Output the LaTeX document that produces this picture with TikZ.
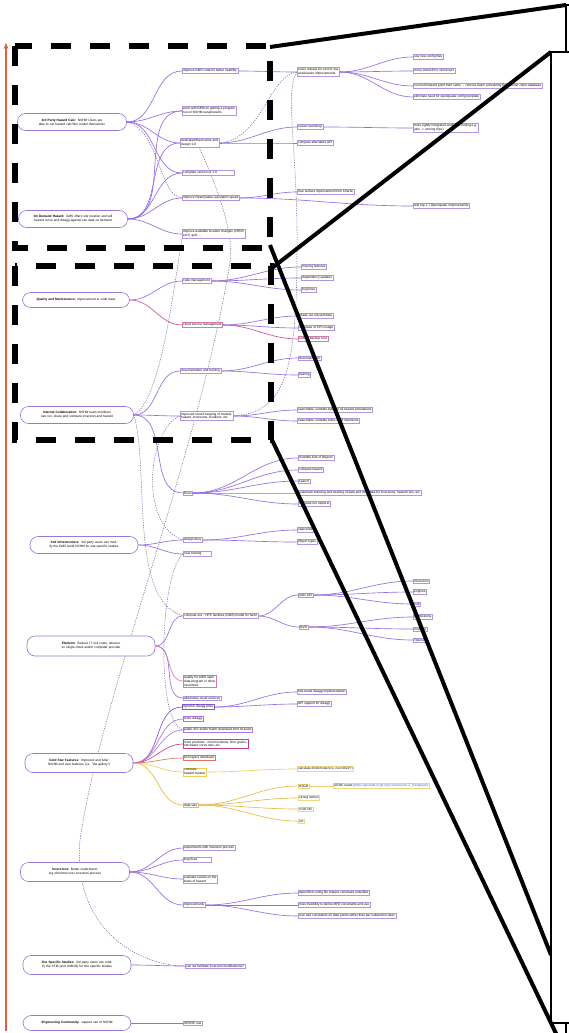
\documentclass[tikz,border=0pt]{standalone}
\usepackage{fontspec}
\setmainfont{Liberation Sans}
\usetikzlibrary{arrows.meta,backgrounds,calc}
\definecolor{rootc}{RGB}{150,120,215}
\definecolor{leafc}{RGB}{175,150,222}
\definecolor{ep}{RGB}{150,110,225}
\definecolor{ek}{RGB}{205,80,150}
\definecolor{lk}{RGB}{215,120,180}
\definecolor{xl}{RGB}{120,110,160}
\definecolor{arrowc}{RGB}{225,95,65}
\definecolor{linkc}{RGB}{60,110,220}
\definecolor{gA}{RGB}{130,85,210}
\definecolor{gB}{RGB}{185,110,225}
\definecolor{gC}{RGB}{175,120,230}
\definecolor{gD}{RGB}{200,60,140}
\definecolor{gE}{RGB}{228,115,95}
\definecolor{gF}{RGB}{240,205,80}
\definecolor{gG}{RGB}{235,185,70}
\definecolor{yl}{RGB}{238,215,130}
\tikzset{
  root/.style={draw=rootc, line width=0.6pt, rounded corners=8pt, fill=white,
    minimum height=17pt, text width=#1, align=center, inner sep=2pt,
    font=\fontsize{3.2}{3.9}\selectfont},
  root/.default=94pt,
  leaf/.style={draw=leafc, line width=0.45pt, fill=white, inner sep=1pt,
    anchor=west, align=left, font=\fontsize{3.2}{3.9}\selectfont},
  edge/.style={draw=ep, line width=0.65pt, out=0, in=180},
  xlink/.style={draw=xl, line width=0.55pt, dash pattern=on 1.2pt off 1.2pt},
  zoomframe/.style={draw=black, line width=6.5pt, dash pattern=on 20pt off 19pt},
  zoomline/.style={draw=black, line width=4pt},
}
\begin{document}
\begin{tikzpicture}[x=1pt,y=-1pt]
\useasboundingbox (0,0) rectangle (568,1033);
% ---------------- roots ----------------
\node[root=92pt, minimum width=109pt] (R1) at (72,122) {\textbf{3rd Party Hazard Calc:} NSHM Users are able to run hazard calc/fine model themselves};
\node[root=92pt, minimum width=109pt] (R2) at (73,219) {\textbf{On Demand Hazard:} GMS offers site location and will hazard curve and disagg against site data on demand};
\node[root=96pt, minimum width=107pt, minimum height=15pt] (R3) at (76,300) {\textbf{Quality and Maintenance:} improvement to code base};
\node[root=96pt, minimum width=113pt] (R4) at (77,415) {\textbf{Internal Collaboration:} NSHM team members can run, share and compare inversion and hazard};
\node[root=94pt, minimum width=108pt] (R5) at (84,545) {\textbf{Self Infrastructure:} 3rd party users can modify the GMS build NSHM for site specific studies};
\node[root=116pt, minimum width=128pt, minimum height=20pt] (R6) at (91,646) {\textbf{Platform}: Reduce IT risk costs, reliance on single cloud and/or computer provider};
\node[root=94pt, minimum width=108pt, minimum height=19pt] (R7) at (79,763) {\textbf{Gold Star Features:} Improved and fuller NSHM end user features (i.e. ``the gallery'')};
\node[root=94pt, minimum width=109pt, minimum height=19pt] (R8) at (75,872) {\textbf{Inversions:} Better understanding of/control over inversion process};
\node[root=92pt, minimum width=108pt, minimum height=19pt] (R9) at (77,965) {\textbf{Site Specific Studies:} 3rd party users can modify the STM (and GMCM) for site specific studies};
\node[root=96pt, minimum width=108pt, minimum height=15pt] (R10) at (77,1023) {\textbf{Engineering Community:} support use of NSHM};
% ---------------- top group ----------------
\node[leaf] (c11) at (182,71) {improve GMS code for better usability};
\node[leaf] (c12) at (182,111) {work with GEM on getting a program\\run on NSHM setup/results};
\node[leaf] (c13) at (180,143) {dedicated/fixed name and\\design 1.0};
\node[leaf, text width=50pt] (c14) at (182,173) {complete version of 1.0};
\node[leaf] (c15) at (182,198) {improve OpenQuake calculation speed};
\node[leaf] (c16) at (182,234) {improve available location changes (VRNS\\etc?) grid, ...};
\node[leaf] (g1) at (297,72) {cover release for cost of use\\and feature improvements};
\node[leaf] (h1) at (413,57) {use new config files};
\node[leaf] (h2) at (413,71) {move toolsAPI to client repo};
\node[leaf] (h3) at (413,86) {run multi hazard point from same ... remove batch scheduling from runner client database};
\node[leaf] (h4) at (413,97) {eliminate need for openquake config template};
\node[leaf] (g2) at (297,127) {review workshop};
\node[leaf] (h5) at (413,128) {more tightly integrated workshop tooling e.g.\\jobs -> running (hpc)};
\node[leaf] (g3) at (297,143) {compare alternative API};
\node[leaf] (g4) at (297,192) {See surface improvement from Charlie};
\node[leaf] (h6) at (413,206) {test top 2.7 Openquake improvements};
% ---------------- quality ----------------
\node[leaf] (q1) at (182,281) {code management};
\node[leaf, draw=lk] (q2) at (182,325) {cloud service management};
\node[leaf] (q11) at (301,267) {missing features};
\node[leaf] (q12) at (301,278) {dependency updates};
\node[leaf] (q13) at (301,290) {bug fixes};
\node[leaf] (q21) at (298,316) {phase out unused data};
\node[leaf] (q22) at (298,328) {decrease of CPU usage};
\node[leaf, draw=lk] (q23) at (298,339) {reduce backup cost};
% ---------------- collaboration ----------------
\node[leaf] (i1) at (180,371) {documentation and training};
\node[leaf] (i2) at (180,416) {improved record keeping of models:\\hazard, inversions, locations, etc};
\node[leaf] (i11) at (298,358) {documentation};
\node[leaf] (i12) at (298,375) {training};
\node[leaf] (i21) at (297,410) {searchable, sortable index of all hazard calculations};
\node[leaf] (i22) at (297,421) {searchable, sortable index of all inversions};
\node[leaf] (i3) at (183,493) {Runs};
\node[leaf] (i31) at (298,458) {Sortable lists of Objects};
\node[leaf] (i32) at (298,470) {compare hazard};
\node[leaf] (i33) at (298,481) {search};
\node[leaf] (i34) at (298,493) {automatic indexing and tracking of data and metadata for inversions, hazard runs, etc};
\node[leaf] (i35) at (298,504) {compare run explorer};
% ---------------- self infrastructure ----------------
\node[leaf] (s1) at (183,540) {design docs};
\node[leaf, text width=26pt] (s2) at (183,554) {new hosting};
\node[leaf] (s11) at (297,530) {object libs};
\node[leaf] (s12) at (297,542) {Object types};
% ---------------- platform ----------------
\node[leaf] (p1) at (183,616) {compute env - HPC facilities (GMS) model for NeSI};
\node[leaf] (p11) at (298,595) {toshi API};
\node[leaf] (p111) at (413,581) {inversions};
\node[leaf] (p112) at (413,592) {engines};
\node[leaf] (p113) at (413,604) {hub};
\node[leaf] (p12) at (299,627) {NeSI};
\node[leaf] (p121) at (413,617) {permissions};
\node[leaf] (p122) at (413,629) {modules};
\node[leaf] (p123) at (413,640) {Tokens};
\node[leaf, draw=lk] (p2) at (183,681) {qualify for AWS open\\data program or other\\incentives};
\node[leaf] (p3) at (183,698) {alternative cloud services};
% ---------------- gold star ----------------
\node[leaf, draw=gA] (gs1) at (182,707) {dynamic disagg plots};
\node[leaf, draw=gB] (gs2) at (183,719) {more disagg};
\node[leaf, draw=gC] (gs3) at (183,730) {public API and/or batch download from forecast};
\node[leaf, draw=gD] (gs4) at (183,744) {more products - more locations, finer grains,\\stochastic curve sets, etc};
\node[leaf, draw=gE] (gs5) at (183,758) {GIS layers download};
\node[leaf, draw=gF] (gs6) at (183,772) {compare\\hazard models};
\node[leaf, draw=gG] (gs7) at (183,805) {data sets};
\node[leaf] (gs11) at (297,692) {fine-tuned disagg implementation};
\node[leaf] (gs12) at (297,704) {API support for disagg};
\node[leaf, draw=yl] (gs61) at (297,769) {calculate 2010 model (vs. next 2022?)};
\node[leaf, draw=yl] (gs71) at (298,786) {NZGD};
\node[leaf, draw=yl] (gs711) at (333,786) {GEDC roads (\textcolor{linkc}{https://geodata.nzgd.org.nz/archive/S-Z\_Sandpiper})};
\node[leaf, draw=yl] (gs72) at (298,798) {strong motion};
\node[leaf, draw=yl] (gs73) at (298,809) {Vs30 DB};
\node[leaf, draw=yl] (gs74) at (298,821) {etc};
% ---------------- inversions ----------------
\node[leaf] (v1) at (183,848) {experiments with inversion process};
\node[leaf, text width=26pt] (v2) at (183,860) {bug fixes};
\node[leaf] (v3) at (183,879) {evaluate results on the\\basis of hazard};
\node[leaf] (v4) at (183,905) {improvements};
\node[leaf] (v41) at (298,893) {OpenSHA config file replace constraint code/files};
\node[leaf] (v42) at (298,905) {more flexibility to define MFD constraints and use};
\node[leaf] (v43) at (298,916) {Use rate constraints on data points rather than per subsection rates};
\node[leaf] (ss1) at (185,966) {can we facilitate inversion modifications?};
\node[leaf] (e1) at (183,1023) {SESOC use};
% ---------------- connectors ----------------
\begin{scope}[on background layer]
\fill[white] (0,0) rectangle (568,1033);
\foreach \a/\b in {R1/c11,R1/c12,R1/c13,R1/c14,R2/c12,R2/c13,R2/c14,R2/c15,R2/c16,
  c11/g1,g1/h1,g1/h2,g1/h3,g1/h4,c13/g2,c13/g3,g2/h5,c15/g4,c15/h6,
  R3/q1,q1/q11,q1/q12,q1/q13,q2/q21,q2/q22,
  R4/i1,R4/i2,R4/i3,i1/i11,i1/i12,i2/i21,i2/i22,i3/i31,i3/i32,i3/i33,i3/i34,i3/i35,
  R5/s1,R5/s2,s1/s11,s1/s12,
  R6/p1,R6/p3,p1/p11,p1/p12,p11/p111,p11/p112,p11/p113,p12/p121,p12/p122,p12/p123,
  gs1/gs11,gs1/gs12,
  R8/v1,R8/v2,R8/v3,R8/v4,v4/v41,v4/v42,v4/v43,R9/ss1,R10/e1}
  {\draw[edge] (\a.east) to (\b.west);}
\draw[edge, draw=ek] (R3.east) to (q2.west);
\draw[edge, draw=ek] (q2.east) to (q23.west);
\draw[edge, draw=lk] (R6.east) to (p2.west);
\draw[edge, draw=gA] (R7.east) to (gs1.west);
\draw[edge, draw=gB] (R7.east) to (gs2.west);
\draw[edge, draw=gC] (R7.east) to (gs3.west);
\draw[edge, draw=gD] (R7.east) to (gs4.west);
\draw[edge, draw=gE] (R7.east) to (gs5.west);
\draw[edge, draw=gF] (R7.east) to (gs6.west);
\draw[edge, draw=gG] (R7.east) to (gs7.west);
\draw[edge, draw=gF] (gs6.east) to (gs61.west);
\foreach \b in {gs71,gs72,gs73,gs74} {\draw[edge, draw=gG] (gs7.east) to (\b.west);}
\draw[edge, draw=gG] (gs71.east) to (gs711.west);
% dashed cross links
\draw[xlink] (c13.east) .. controls (262,140) and (268,76) .. (g1.west);
\draw[xlink] (R1.east) .. controls (160,130) and (158,195) .. (c15.west);
\draw[xlink] (g1.west) .. controls (284,92) and (298,150) .. (297,250) .. controls (297,380) and (282,412) .. (i2.east);
\draw[xlink] (c16.south west) .. controls (172,300) and (160,400) .. (R4.east);
\draw[xlink] (c13.south) .. controls (218,190) and (234,232) .. (230,262) .. controls (200,450) and (100,700) .. (80,840) .. controls (72,930) and (140,966) .. (ss1.west);
\draw[xlink] (i2.west) .. controls (148,428) and (138,525) .. (s1.west);
\draw[xlink] (R4.east) .. controls (150,470) and (128,600) .. (p1.west);
\draw[xlink] (s2.west) .. controls (160,572) and (155,722) .. (gs3.west);
\end{scope}
% ---------------- overlay ----------------
\coordinate (arB) at (6,1031);
\coordinate (arT) at (6,43);
\draw[arrowc, line width=1.3pt, -{Stealth[length=6pt,width=5pt]}] (arB) -- (arT);
\coordinate (f1a) at (15,46);
\coordinate (f1b) at (270,248);
\coordinate (f2a) at (15,266);
\coordinate (f2b) at (271,440);
\draw[zoomframe] (f1a) rectangle (f1b);
\draw[zoomframe] (f2a) rectangle (f2b);
\coordinate (o1) at (566,5);
\coordinate (o2) at (640,1100);
\coordinate (n1) at (551,52);
\coordinate (n2) at (640,1023);
\coordinate (t1) at (270,47);
\coordinate (t2) at (270,245);
\coordinate (t3) at (272,268);
\coordinate (t4) at (272,440);
\coordinate (n3) at (551,1023);
\draw[draw=black, line width=2.5pt, fill=white] (o1) rectangle (o2);
\draw[zoomline] (t1) -- (o1);
\draw[zoomline] (t2) -- (551,955);
\draw[draw=black, line width=2.5pt, fill=white] (n1) rectangle (n2);
\draw[zoomline] (t3) -- (n1);
\draw[zoomline] (t4) -- ($(t4)!1.02!(n3)$);
\end{tikzpicture}
\end{document}
